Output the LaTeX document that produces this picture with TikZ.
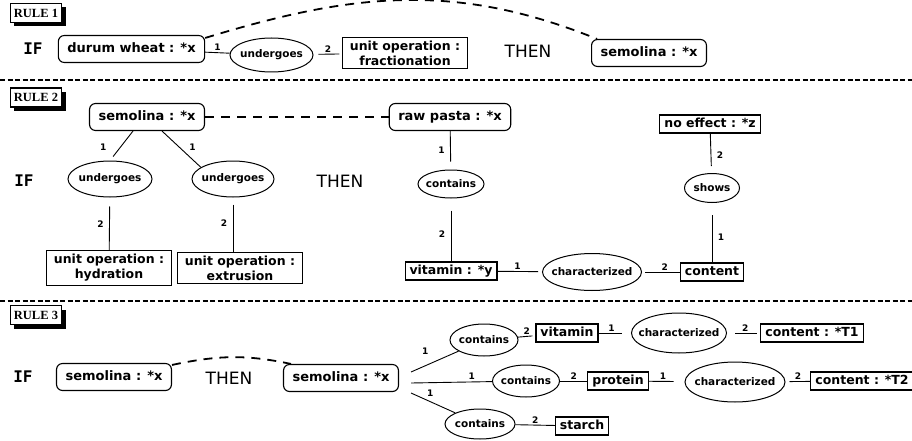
\documentclass[tikz,border=0pt]{standalone}
\usepackage{fontspec}
\setmainfont{DejaVu Sans}
\newfontfamily\keyfont{DejaVu Sans Mono}
\newfontfamily\rulefont{Liberation Serif}
\usetikzlibrary{shapes.geometric,shadows}

\tikzset{
  ent/.style={draw, rounded corners=6pt, line width=1.1pt, fill=white,
    font=\bfseries\fontsize{13}{15}\selectfont, text height=9.5pt, text depth=2.5pt,
    inner xsep=9pt, inner ysep=7.5pt},
  con/.style={draw, rectangle, line width=1.1pt,
    font=\bfseries\fontsize{12.5}{15}\selectfont, text height=9.5pt, text depth=2.5pt,
    inner xsep=4.5pt, inner ysep=3pt},
  con2/.style={con, align=center, text height=, text depth=, inner xsep=7pt, inner ysep=3.5pt},
  rel/.style={draw, ellipse, line width=1pt, font=\bfseries\fontsize{10.5}{12}\selectfont,
    inner xsep=-15pt, inner ysep=0pt, minimum width=80pt, minimum height=36pt},
  lab/.style={font=\bfseries\fontsize{9}{10}\selectfont, inner sep=1.5pt},
  link/.style={line width=0.9pt},
  coref/.style={line width=1.8pt, dash pattern=on 9pt off 7pt},
  sep/.style={line width=1.5pt, dash pattern=on 5pt off 2.5pt},
  rulebox/.style={draw, fill=white, line width=1.2pt,
    font=\rulefont\bfseries\fontsize{12.5}{13}\selectfont,
    inner xsep=3.5pt, inner ysep=2.5pt, minimum height=19pt,
    general shadow={fill=black, shadow xshift=4pt, shadow yshift=-4pt}},
  key/.style={font=\fontsize{17}{18}\selectfont},
  ifkey/.style={font=\keyfont\bfseries\fontsize{16}{17}\selectfont}
}

\begin{document}
\begin{tikzpicture}[x=1pt, y=-1pt]
  \useasboundingbox (0,0) rectangle (912,441);

  % rule 1
  \node[rulebox] (r1) at (36,13) {RULE 1};
  \node[ifkey] (if1) at (33,49) {IF};
  \node[ent] (durum) at (131.5,49) {durum wheat : *x};
  \node[rel, minimum width=83pt, minimum height=34pt] (ug0) at (271.5,55) {undergoes};
  \node[con2] (frac) at (405,53) {unit operation :\\fractionation};
  \node[key] (then1) at (528,51) {THEN};
  \node[ent] (sem1) at (649,53) {semolina : *x};
  \draw[link] (durum) -- node[lab, above]{1} (ug0);
  \draw[link, shorten <=5pt, shorten >=3pt] (ug0) -- node[lab, above]{2} (frac);
  \draw[coref] ([yshift=-3pt]durum.north east) to[out=17, in=158] ([xshift=6pt]sem1.north west);

  \draw[sep] (0,80) -- (912,80);

  % rule 2
  \node[rulebox] (r2) at (36,97.5) {RULE 2};
  \node[ifkey] (if2) at (24,181) {IF};
  \node[ent] (sem2) at (147,117) {semolina : *x};
  \node[rel, minimum width=84pt] (ug1) at (110,179) {undergoes};
  \node[rel, minimum width=82pt] (ug2) at (233,179) {undergoes};
  \node[con2] (hyd) at (109,268) {unit operation :\\hydration};
  \node[con2] (extr) at (240,268) {unit operation :\\extrusion};
  \node[key] (then2) at (340,181) {THEN};
  \node[ent] (raw) at (450,117) {raw pasta : *x};
  \node[rel, minimum width=66pt, minimum height=28pt] (cont) at (451,184) {contains};
  \node[con] (vit) at (451,271) {vitamin : *y};
  \node[rel, minimum width=99pt, minimum height=37pt] (char) at (592,272) {characterized};
  \node[con] (ctt) at (712,272) {content};
  \node[rel, minimum width=55pt, minimum height=29pt] (shows) at (712,188) {shows};
  \node[con] (noeff) at (710,124) {no effect : *z};

  \draw[coref] (sem2) -- (raw);
  \draw[link, shorten >=5pt] ([xshift=-14pt]sem2.south) -- node[lab, left=12pt, pos=.55]{1} (ug1.north);
  \draw[link] ([xshift=15pt]sem2.south) -- node[lab, right=8pt, pos=.45]{1} (ug2.160);
  \draw[link, shorten <=9pt] (ug1) -- node[lab, left=4pt, pos=.5]{2} (hyd);
  \draw[link, shorten <=7pt] (ug2.south) -- node[lab, left=4pt, pos=.48]{2} (ug2.south |- extr.north);
  \draw[link, shorten >=8pt] (raw) -- node[lab, left=4pt, pos=.5]{1} (cont);
  \draw[link, shorten <=12pt] (cont) -- node[lab, left=4pt, pos=.56]{2} (vit);
  \draw[link, shorten >=4pt] (vit) -- node[lab, above, pos=.45]{1} (char);
  \draw[link, shorten <=3pt] (char) -- node[lab, above, pos=.6]{2} (ctt);
  \draw[link, shorten >=12pt] (ctt) -- node[lab, right=4pt, pos=.43]{1} (shows);
  \draw[link, shorten <=7pt] (shows) -- node[lab, right=4pt, pos=.45]{2} (noeff);

  \draw[sep] (0,301) -- (912,301);

  % rule 3
  \node[rulebox] (r3) at (36,315) {RULE 3};
  \node[ifkey] (if3) at (23,377) {IF};
  \node[ent] (sem3a) at (114,377) {semolina : *x};
  \node[key] (then3) at (229,378) {THEN};
  \node[ent] (sem3b) at (341,378) {semolina : *x};
  \draw[coref] ([yshift=-2pt]sem3a.north east) to[out=12, in=168] ([xshift=8pt]sem3b.north west);

  \node[rel, minimum width=68pt, minimum height=32pt] (c1) at (484,340) {contains};
  \node[con] (vit3) at (567,333) {vitamin};
  \node[rel, minimum width=95pt, minimum height=40pt] (ch1) at (679,333) {characterized};
  \node[con] (t1) at (812,333) {content : *T1};
  \node[rel, minimum width=67pt, minimum height=32pt] (c2) at (526,381) {contains};
  \node[con] (prot) at (618,381) {protein};
  \node[rel, minimum width=100pt, minimum height=40pt] (ch2) at (735,382) {characterized};
  \node[con] (t2) at (862,381) {content : *T2};
  \node[rel, minimum width=70pt, minimum height=30pt] (c3) at (480,424) {contains};
  \node[con] (starch) at (582,426) {starch};

  \coordinate (f1) at ([xshift=12pt, yshift=6pt]sem3b.east);
  \coordinate (f2) at ([xshift=12pt, yshift=-5pt]sem3b.east);
  \coordinate (f3) at ([xshift=12pt, yshift=-15pt]sem3b.east);
  \draw[link] (f1) -- node[lab, above=9pt, pos=.3]{1} (c1);
  \draw[link] (f2) -- node[lab, above, pos=.75]{1} (c2);
  \draw[link] (f3) -- node[lab, above right=1pt, pos=.3]{1} (c3);
  \draw[link, shorten >=3pt] (c1) -- node[lab, above]{2} (vit3);
  \draw[link, shorten >=9pt] (vit3) -- node[lab, above, pos=.4]{1} (ch1);
  \draw[link, shorten <=8pt, shorten >=3pt] (ch1) -- node[lab, above, pos=.55]{2} (t1);
  \draw[link] (c2) -- node[lab, above]{2} (prot);
  \draw[link, shorten >=11pt] (prot) -- node[lab, above, pos=.4]{1} (ch2);
  \draw[link, shorten <=4pt] (ch2) -- node[lab, above]{2} (t2);
  \draw[link] (c3) -- node[lab, above]{2} (starch);
\end{tikzpicture}
\end{document}
